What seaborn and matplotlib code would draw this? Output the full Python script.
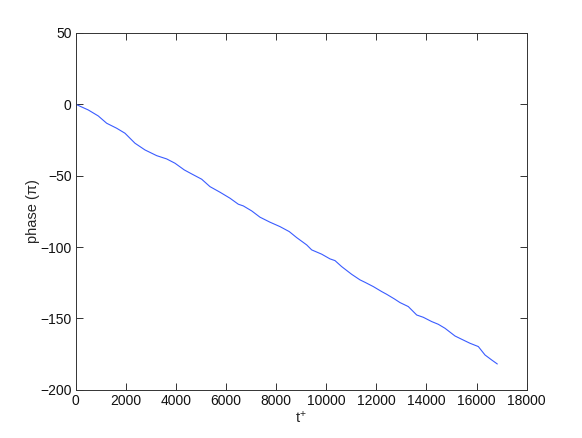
import matplotlib
matplotlib.use("Agg")
import matplotlib.pyplot as plt
import seaborn as sns
import pandas as pd

t_plus = [0, 503, 902, 1237, 1636, 1968, 2367, 2766, 3233, 3632, 3963, 4335,
          4630, 5029, 5360, 5759, 6158, 6490, 6690, 7025, 7356, 7755, 8154,
          8525, 8820, 9219, 9419, 9818, 10149, 10349, 10615, 11014, 11347,
          11546, 11878, 12213, 12412, 12716, 12943, 13275, 13610, 13873,
          14208, 14471, 14739, 15138, 15406, 15737, 16069, 16336, 16603, 16827]
phase = [0, -4.0, -8.2, -13.3, -16.8, -20.3, -27.3, -32.0, -36.0, -38.3, -41.3,
         -46.0, -48.8, -52.5, -57.7, -61.6, -65.8, -70.0, -71.2, -74.7, -79.1,
         -82.6, -85.7, -89.2, -93.4, -98.5, -102.0, -105.0, -108.3, -109.5,
         -113.7, -119.1, -123.0, -124.7, -127.7, -131.2, -133.1, -136.3,
         -138.9, -141.7, -147.6, -149.2, -152.2, -154.1, -156.9, -162.3,
         -164.6, -167.4, -169.7, -175.6, -179.1, -181.9]
x_ticks = [0, 2000, 4000, 6000, 8000, 10000, 12000, 14000, 16000, 18000]
y_ticks = [-200, -150, -100, -50, 0, 50]

sns.set_theme(style="white")
plt.rcParams['font.family'] = ['Liberation Sans', 'DejaVu Sans']
plt.rcParams['mathtext.fontset'] = 'custom'
plt.rcParams['mathtext.rm'] = 'Liberation Sans'
plt.rcParams['mathtext.it'] = 'Liberation Sans'
plt.rcParams['mathtext.default'] = 'regular'

df = pd.DataFrame({"t": t_plus, "phase": phase})

fig = plt.figure(figsize=(5.82, 4.38), dpi=100)
ax = fig.add_axes([0.13, 0.11, 0.775, 0.815])
sns.lineplot(data=df, x="t", y="phase", ax=ax, color="#3a5cff", linewidth=0.8)

ax.set_xlim(0, 18000)
ax.set_ylim(-200, 50)
ax.set_xticks(x_ticks)
ax.set_yticks(y_ticks)
ax.set_xticklabels([str(v) for v in x_ticks])
ax.set_yticklabels([str(v).replace('-', '\u2212') for v in y_ticks])
ax.tick_params(direction='in', length=5, width=0.6, top=True, right=True,
               bottom=True, left=True, labelsize=10, colors='#111111',
               pad=3)
for s in ax.spines.values():
    s.set_color('#333333')
    s.set_linewidth(0.7)
ax.set_xlabel("t$^{+}$", fontsize=10.5, labelpad=1)
ax.set_ylabel("phase (\u03c0)", fontsize=10.5, labelpad=0)
ax.grid(False)

fig.savefig("out.png", dpi=100, facecolor='white')
